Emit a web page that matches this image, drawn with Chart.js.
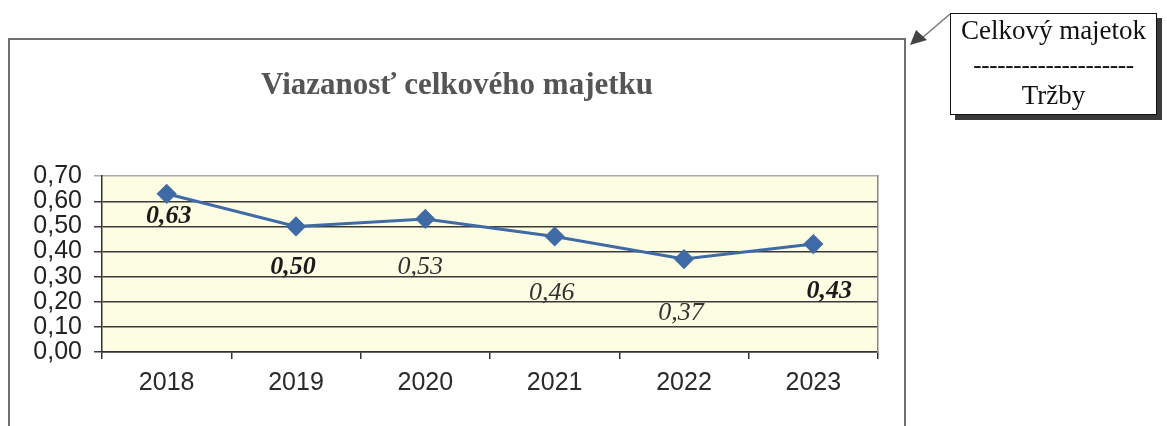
<!DOCTYPE html>
<html>
<head>
<meta charset="utf-8">
<script src="https://cdn.jsdelivr.net/npm/chart.js@4/dist/chart.umd.min.js"></script>
<style>
  html, body { margin: 0; padding: 0; background: #fff; width: 1167px; height: 426px; overflow: hidden; }
  #frame { position: absolute; left: 8px; top: 38px; width: 898px; height: 400px; box-sizing: border-box;
           border: 2px solid #6e6e6e; border-bottom: none; background: #fff; }
  #wrap { position: absolute; left: 0; top: 0; width: 894px; height: 388px; }
  #legendBox { position: absolute; left: 950px; top: 13px; width: 207px; height: 102px; box-sizing: border-box;
               border: 1.5px solid #111; background: #fff; box-shadow: 5px 5px 0 #3a3a3a;
               font-family: 'Liberation Serif', 'Times New Roman', serif; font-size: 27px; color: #111;
               text-align: center; }
  #legendBox div { position: absolute; left: 0; width: 100%; }
  svg { position: absolute; left: 0; top: 0; }
</style>
</head>
<body>
<div id="frame"><div id="wrap"><canvas id="c" width="894" height="388"></canvas></div></div>
<svg width="1167" height="426">
  <line x1="950" y1="14" x2="922" y2="38" stroke="#777" stroke-width="1.5"/>
  <polygon points="910,45 916,30 927,40" fill="#444"/>
</svg>
<div id="legendBox">
  <div style="top:1px;">Celkový majetok</div>
  <div style="top:37px; font-size:25px; letter-spacing:-0.3px;">--------------------</div>
  <div style="top:66px;">Tržby</div>
</div>
<script>
const categories = ['2018', '2019', '2020', '2021', '2022', '2023'];
const values = [0.63, 0.50, 0.53, 0.46, 0.37, 0.43];
const valueLabels = ['0,63', '0,50', '0,53', '0,46', '0,37', '0,43'];
const yTickLabels = ['0,00', '0,10', '0,20', '0,30', '0,40', '0,50', '0,60', '0,70'];
const chartTitle = 'Viazanosť celkového majetku';

// label styling (offsets from the point, boldness)
const labelStyle = [
  { dx: 2, dy: 23, bold: true },
  { dx: -3, dy: 41, bold: true },
  { dx: -5, dy: 48, bold: false },
  { dx: -3, dy: 57, bold: false },
  { dx: -3, dy: 54, bold: false },
  { dx: 16, dy: 47, bold: true }
];

const bgPlugin = {
  id: 'plotBg',
  beforeDraw(chart) {
    const a = chart.chartArea, ctx = chart.ctx;
    ctx.save();
    ctx.fillStyle = '#fdfde3';
    ctx.fillRect(a.left, a.top, a.right - a.left, a.bottom - a.top);
    ctx.restore();
  }
};

const labelPlugin = {
  id: 'valLabels',
  afterDatasetsDraw(chart) {
    const ctx = chart.ctx;
    const meta = chart.getDatasetMeta(0);
    ctx.save();
    ctx.textAlign = 'center';
    ctx.textBaseline = 'middle';
    meta.data.forEach((pt, i) => {
      const s = labelStyle[i];
      ctx.font = (s.bold ? 'italic bold ' : 'italic ') + '26px "Liberation Serif", "Times New Roman", serif';
      ctx.fillStyle = s.bold ? '#1a1a1a' : '#333';
      ctx.fillText(valueLabels[i], pt.x + s.dx, pt.y + s.dy);
    });
    ctx.restore();
  }
};

new Chart(document.getElementById('c'), {
  type: 'line',
  data: {
    labels: categories,
    datasets: [{
      data: values,
      borderColor: '#3f6aa6',
      backgroundColor: '#3f6aa6',
      borderWidth: 3,
      pointStyle: 'rectRot',
      pointRadius: 8,
      pointHoverRadius: 8,
      tension: 0,
      fill: false
    }]
  },
  options: {
    responsive: false,
    animation: false,
    devicePixelRatio: 1,
    layout: { padding: { left: 0, right: 0, top: 0, bottom: 0 } },
    plugins: {
      legend: { display: false },
      tooltip: { enabled: false },
      title: {
        display: true,
        text: chartTitle,
        color: '#555',
        font: { family: '"Liberation Serif", "Times New Roman", serif', size: 31, weight: 'bold' },
        padding: { top: 27, bottom: 72 }
      }
    },
    scales: {
      x: {
        type: 'category',
        offset: true,
        grid: { display: true, drawOnChartArea: false, drawTicks: true, tickLength: 7, color: '#333', lineWidth: 1.5, offset: true },
        border: { display: true, color: '#333', width: 1.5 },
        ticks: { color: '#2a2a2a', padding: 9, font: { family: '"Liberation Sans", Arial, sans-serif', size: 25 } },
        afterFit(scale) { scale.height = 76; }
      },
      y: {
        min: 0, max: 0.7,
        ticks: {
          stepSize: 0.1,
          autoSkip: false,
          color: '#222',
          padding: 12,
          font: { family: '"Liberation Sans", Arial, sans-serif', size: 25 },
          callback: (v, i) => yTickLabels[i]
        },
        grid: {
          tickLength: 8, lineWidth: 1.5,
          color: (c) => (c.tick && Math.abs(c.tick.value - 0.7) < 1e-6) ? '#aaa' : '#3a3a3a'
        },
        border: { display: true, color: '#333', width: 1.5 },
        afterFit(scale) { scale.width = 92; }
      },
      yRight: {
        position: 'right',
        min: 0, max: 0.7,
        grid: { display: false, drawTicks: false },
        ticks: { display: false },
        border: { display: true, color: '#888', width: 1.5 },
        afterFit(scale) { scale.width = 26; }
      }
    }
  },
  plugins: [bgPlugin, labelPlugin]
});
</script>
</body>
</html>
